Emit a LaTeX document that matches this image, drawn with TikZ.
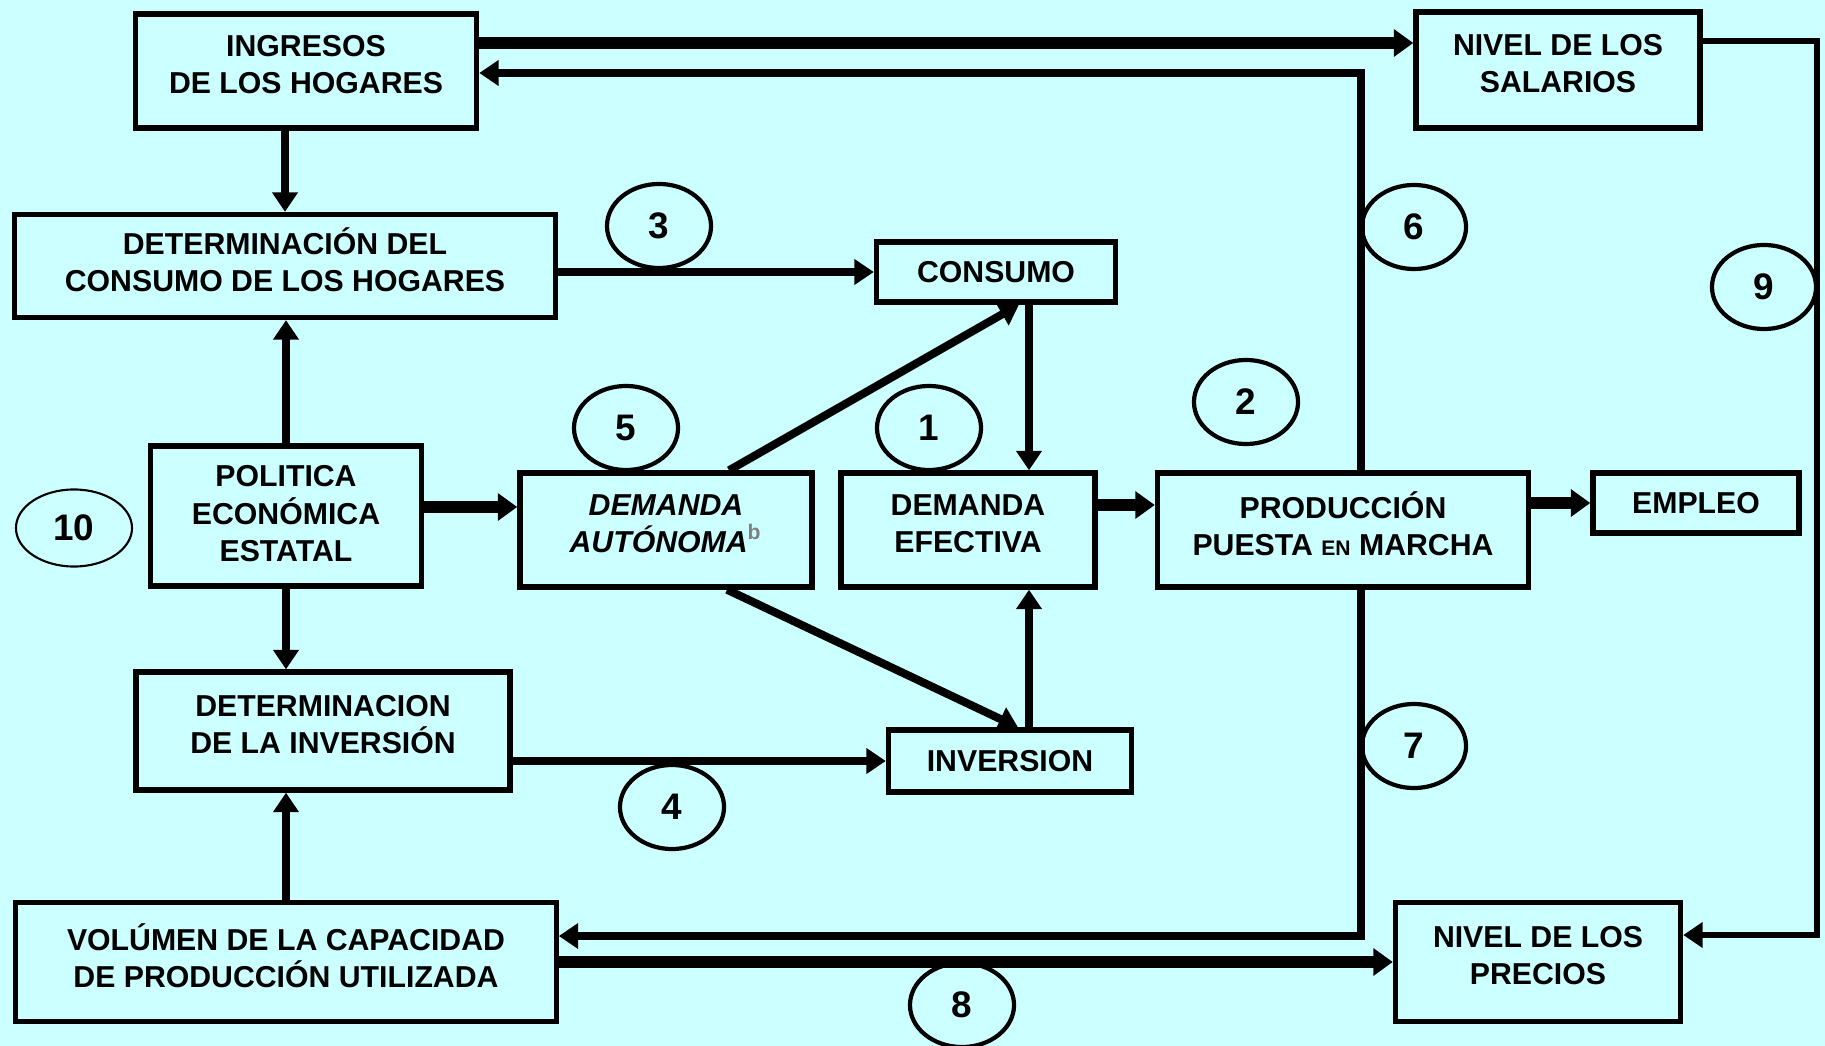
\documentclass[tikz,border=0pt]{standalone}
\usepackage{fontspec}
\setmainfont{Liberation Sans}
\usetikzlibrary{calc,shapes.geometric,arrows.meta}
\definecolor{paper}{HTML}{CCFFFF}
\definecolor{ink}{HTML}{000000}

\begin{document}
\begin{tikzpicture}[x=0.01cm,y=-0.01cm,ink,
  box/.style={draw,line width=1.5pt,align=center,inner sep=0pt,
    font=\fontsize{8.6}{10.6}\selectfont\bfseries},
  two/.style={text depth=3.6pt},
  ital/.style={font=\fontsize{8.6}{10.6}\selectfont\bfseries\itshape},
  num/.style={draw,ellipse,line width=1.2pt,minimum width=1.04cm,minimum height=0.84cm,
    inner sep=0pt,font=\fontsize{10.5}{12}\selectfont\bfseries},
  arr/.style={line width=2.3pt,-{Triangle[length=5.5pt,width=7pt]}},
  fat/.style={line width=3.4pt,-{Triangle[length=5.5pt,width=7.5pt]}},
  ln/.style={line width=1.8pt,-{Triangle[length=5.5pt,width=7pt]}}]
  \useasboundingbox (0,0) rectangle (1825,1046);
  \fill[paper] (0,0) rectangle (1825,1046);
  % households
  \node[box,two,minimum width=3.41cm,minimum height=1.14cm] (ingresos) at (306,71) {INGRESOS\\DE LOS HOGARES};
  \node[box,two,minimum width=2.84cm,minimum height=1.16cm] (salarios) at (1558,70) {NIVEL DE LOS\\SALARIOS};
  \node[box,two,minimum width=5.40cm,minimum height=1.03cm] (detcons) at (285,266) {DETERMINACIÓN DEL\\CONSUMO DE LOS HOGARES};
  \node[box,minimum width=2.39cm,minimum height=0.60cm] (consumo) at (996,272) {CONSUMO};
  % demand row
  \node[box,text depth=1.4pt,minimum width=2.71cm,minimum height=1.40cm] (politica) at (286,516) {POLITICA\\ECONÓMICA\\ESTATAL};
  \node[box,two,ital,minimum width=2.92cm,minimum height=1.14cm] (autonoma) at (666,530) {DEMANDA\\AUTÓNOMA\textsuperscript{\upshape\color{gray}b}};
  \node[box,two,minimum width=2.54cm,minimum height=1.14cm] (efectiva) at (968,530) {DEMANDA\\EFECTIVA};
  \node[box,two,minimum width=3.71cm,minimum height=1.14cm] (produccion) at (1343,530) {PRODUCCIÓN\\PUESTA {\fontsize{6}{6}\selectfont EN} MARCHA};
  \node[box,minimum width=2.06cm,minimum height=0.60cm] (empleo) at (1696,503) {EMPLEO};
  % investment and capacity
  \node[box,two,minimum width=3.74cm,minimum height=1.18cm] (detinv) at (323,731) {DETERMINACION\\DE LA INVERSIÓN};
  \node[box,minimum width=2.43cm,minimum height=0.62cm] (inversion) at (1010,761) {INVERSION};
  \node[box,two,minimum width=5.40cm,minimum height=1.19cm] (volumen) at (286,962) {VOLÚMEN DE LA CAPACIDAD\\DE PRODUCCIÓN UTILIZADA};
  \node[box,two,minimum width=2.85cm,minimum height=1.19cm] (precios) at (1538,962) {NIVEL DE LOS\\PRECIOS};
  % numbered links
  \foreach \n/\x/\y in {1/929/428,2/1246/402,3/659/226,4/672/807,5/626/428,6/1414/227,7/1414/746,8/962/1005,9/1764/287}
    \node[num] (c\n) at (\x,\y) {\n};
  \node[num,line width=0.6pt,minimum width=1.16cm,minimum height=0.77cm] (c10) at (74,528) {10};
  % bends of the long loops
  \coordinate (top) at (1361,73);
  \coordinate (bot) at (1361,936);
  \coordinate (rtop) at (1817,41);
  \coordinate (rbot) at (1817,935);
  \coordinate (dx) at (1029,0);
  \draw[fat] ($(ingresos.east)+(0,-28)$) -- ($(salarios.west)+(0,-27)$);
  \draw[arr] (produccion.north -| top) -- (top) -- (top -| ingresos.east);
  \draw[arr] (produccion.south -| bot) -- (bot) -- (bot -| volumen.east);
  \draw[ln] (rtop -| salarios.east) -- (rtop) -- (rbot) -- (rbot -| precios.east);
  \draw[arr] (ingresos.south -| detcons.north) -- (detcons.north);
  \draw[arr] (detcons.east |- consumo.west) -- (consumo.west);
  \draw[arr] (politica.north) -- (politica.north |- detcons.south);
  \draw[arr] (politica.south) -- (politica.south |- detinv.north);
  \draw[fat] ($(politica.east)+(0,-9)$) -- ($(autonoma.west)+(0,-23)$);
  \draw[arr] ($(autonoma.north)+(63,0)$) -- ($(consumo.south)+(23,0)$);
  \draw[arr] (consumo.south -| dx) -- (efectiva.north -| dx);
  \draw[arr] ($(autonoma.south)+(61,0)$) -- ($(inversion.north)+(8,0)$);
  \draw[arr] (inversion.north -| dx) -- (efectiva.south -| dx);
  \draw[arr] (detinv.east |- inversion.west) -- (inversion.west);
  \draw[fat] ($(efectiva.east)+(0,-25)$) -- ($(produccion.west)+(0,-25)$);
  \draw[fat] (produccion.east |- empleo.west) -- (empleo.west);
  \draw[arr] (volumen.north) -- (volumen.north |- detinv.south);
  \draw[fat] (volumen.east |- precios.west) -- (precios.west);
\end{tikzpicture}
\end{document}
